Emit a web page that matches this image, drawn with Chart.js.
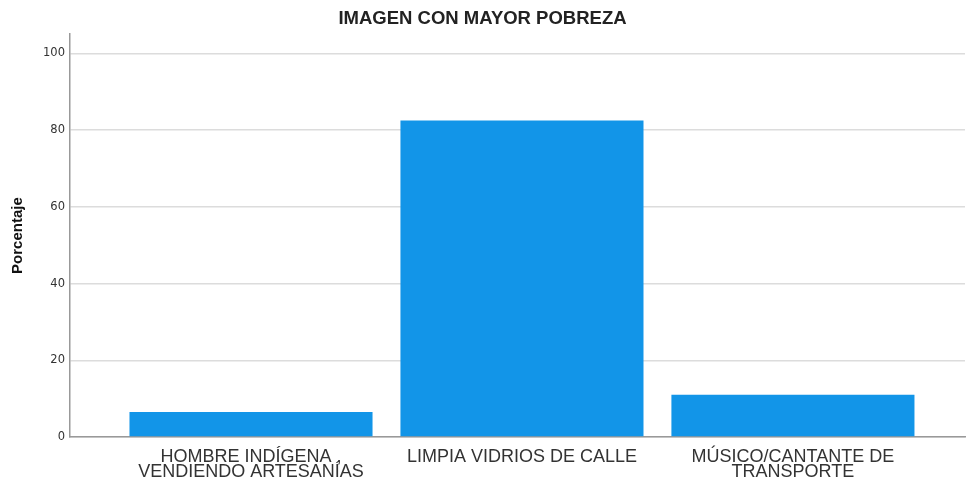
<!DOCTYPE html>
<html>
<head>
<meta charset="utf-8">
<script src="https://cdn.jsdelivr.net/npm/chart.js@4/dist/chart.umd.min.js"></script>
<style>
  html, body { margin: 0; padding: 0; background: #fff; }
  #wrap { width: 969px; height: 478px; }
</style>
</head>
<body>
<div id="wrap"><canvas id="chart"></canvas></div>
<script>
// Chart data
const chartTitle = 'IMAGEN CON MAYOR POBREZA';
const yTitle = 'Porcentaje';
const categories = [
    ['HOMBRE INDÍGENA ,', 'VENDIENDO ARTESANÍAS'],
    ['LIMPIA VIDRIOS DE CALLE'],
    ['MÚSICO/CANTANTE DE', 'TRANSPORTE']
];
const percentages = [6.5, 82.5, 11.0];
const yTickValues = [0, 20, 40, 60, 80, 100];

const points = percentages.map((v, i) => ({ x: i, y: v }));
const ctx = document.getElementById('chart').getContext('2d');

new Chart(ctx, {
    type: 'bar',
    data: {
        datasets: [{
            data: points,
            backgroundColor: '#1295e8',
            borderWidth: 0,
            categoryPercentage: 1,
            barPercentage: 0.897
        }]
    },
    options: {
        responsive: true,
        maintainAspectRatio: false,
        animation: false,
        layout: { padding: { left: 0, right: 4, top: 0, bottom: 0 } },
        plugins: {
            legend: { display: false },
            tooltip: { enabled: false },
            title: {
                display: true,
                text: chartTitle,
                color: '#222',
                font: { family: 'Liberation Sans', size: 18.5, weight: 'bold' },
                padding: { top: 8, bottom: 4 }
            }
        },
        scales: {
            x: {
                type: 'linear',
                offset: false,
                min: -0.668,
                max: 2.635,
                afterBuildTicks: s => { s.ticks = categories.map((c, i) => ({ value: i })); },
                afterFit: s => { s.height = 41; },
                grid: { display: false },
                border: { display: true, color: '#999', width: 1.5 },
                ticks: {
                    autoSkip: false,
                    maxRotation: 0,
                    padding: 5,
                    color: '#333',
                    font: { family: 'Liberation Sans', size: 18, lineHeight: '15px' },
                    callback: v => categories[v]
                }
            },
            y: {
                min: 0,
                max: 105,
                afterBuildTicks: s => { s.ticks = yTickValues.map(v => ({ value: v })); },
                afterFit: s => { s.width = 70; },
                grid: { color: '#dcdcdc', lineWidth: 1.5, drawTicks: false },
                border: { display: true, color: '#999', width: 1.5 },
                ticks: {
                    padding: 5,
                    color: '#333',
                    font: { family: 'DejaVu Sans', size: 11.5 }
                },
                title: {
                    display: true,
                    text: yTitle,
                    color: '#111',
                    font: { family: 'Liberation Sans', size: 15, weight: 'bold' },
                    padding: { top: 9, bottom: 4 }
                }
            }
        }
    }
});
</script>
</body>
</html>
